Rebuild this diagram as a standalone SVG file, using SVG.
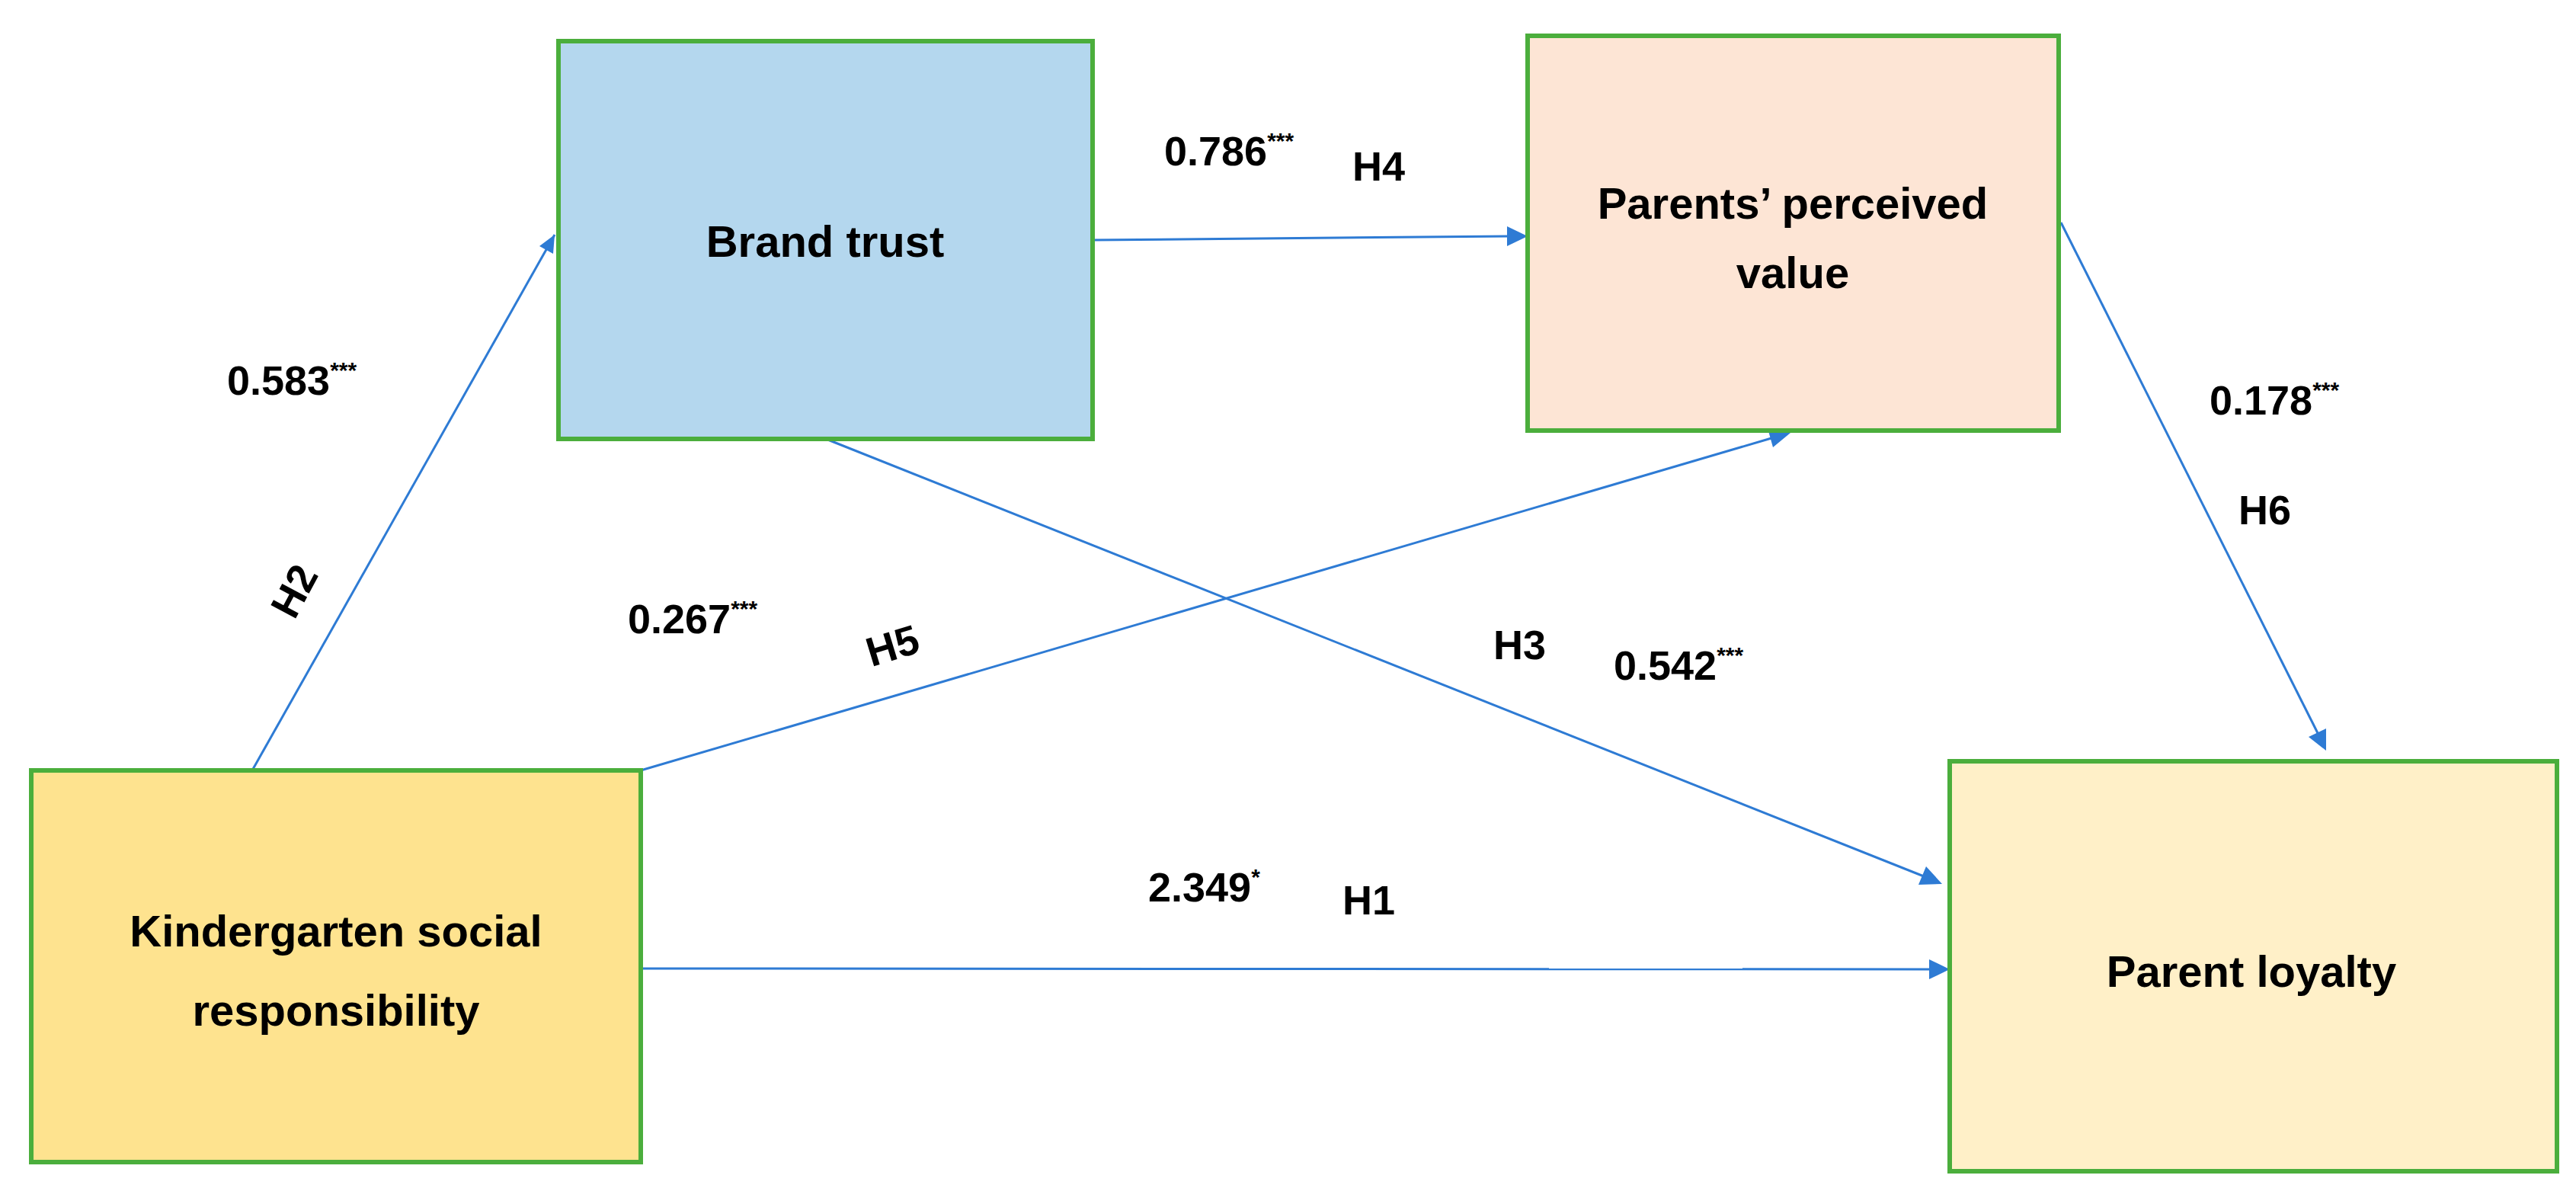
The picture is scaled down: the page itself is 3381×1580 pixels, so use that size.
<svg xmlns="http://www.w3.org/2000/svg" width="3381" height="1580" viewBox="0 0 3381 1580">
<style>
.box{stroke:#4BAE3C;stroke-width:6}
.t{font-family:"Liberation Sans",Arial,sans-serif;font-weight:bold;font-size:54px;fill:#000}
.n{font-family:"Liberation Sans",Arial,sans-serif;font-weight:bold;font-size:58px;fill:#000;text-anchor:middle}
.s{font-size:30px}
.c{stroke:#2E7BD4;stroke-width:3;fill:none;marker-end:url(#a)}
</style>
<defs><marker id="a" markerWidth="10" markerHeight="8" refX="9" refY="4" orient="auto" markerUnits="userSpaceOnUse" viewBox="0 0 10 8"><path d="M0,0L10,4L0,8z" fill="#2E7BD4" transform="scale(1)"/></marker></defs>
<rect width="3381" height="1580" fill="#fff"/>
<g id="connectors">
<marker id="dummy"/>
<line class="c" x1="331" y1="1011" x2="728" y2="308" style="marker-end:none"/>
<path d="M728,308 L708,323 L726,333 z" fill="#2E7BD4"/>
<line class="c" x1="1434" y1="315" x2="1980" y2="310" style="marker-end:none"/>
<path d="M2005,310 L1978,297 L1978,323 z" fill="#2E7BD4"/>
<line class="c" x1="841" y1="1011" x2="2325" y2="575" style="marker-end:none"/>
<path d="M2350,568 L2320,562 L2327,587 z" fill="#2E7BD4"/>
<line class="c" x1="1084" y1="576" x2="2525" y2="1150" style="marker-end:none"/>
<path d="M2549,1160 L2528,1137 L2518,1161 z" fill="#2E7BD4"/>
<line class="c" x1="841" y1="1271" x2="2533" y2="1272" style="marker-end:none"/>
<path d="M2559,1272 L2532,1259 L2532,1285 z" fill="#2E7BD4"/>
<line class="c" x1="2705" y1="292" x2="3042" y2="962" style="marker-end:none"/>
<path d="M3053,985 L3030,967 L3053,956 z" fill="#2E7BD4"/>
</g>
<g id="brand-trust"><rect class="box" x="733" y="54" width="701" height="522" fill="#B4D7EE"/><text class="n" x="1083" y="337">Brand trust</text></g>
<g id="perceived-value"><rect class="box" x="2005" y="47" width="697" height="518" fill="#FDE5D5"/><text class="n" x="2353" y="287">Parents’ perceived</text><text class="n" x="2353" y="378">value</text></g>
<g id="parent-loyalty"><rect class="box" x="2559" y="999" width="797" height="538" fill="#FFF0C8"/><text class="n" x="2955" y="1295">Parent loyalty</text></g>
<g id="kindergarten"><rect class="box" x="41" y="1011" width="800" height="514" fill="#FEE38F"/><text class="n" x="441" y="1242">Kindergarten social</text><text class="n" x="441" y="1346">responsibility</text></g>
<g id="labels">
<text class="t" x="298" y="518">0.583<tspan class="s" dy="-22">***</tspan></text>
<text class="t" x="385" y="795" text-anchor="middle" transform="rotate(-62 385 775)">H2</text>
<text class="t" x="1528" y="217">0.786<tspan class="s" dy="-22">***</tspan></text>
<text class="t" x="1775" y="237">H4</text>
<text class="t" x="824" y="831">0.267<tspan class="s" dy="-22">***</tspan></text>
<text class="t" x="1171" y="866" text-anchor="middle" transform="rotate(-17 1171 846)">H5</text>
<text class="t" x="1960" y="865">H3</text>
<text class="t" x="2118" y="892">0.542<tspan class="s" dy="-22">***</tspan></text>
<text class="t" x="1507" y="1183">2.349<tspan class="s" dy="-22">*</tspan></text>
<text class="t" x="1762" y="1200">H1</text>
<text class="t" x="2900" y="544">0.178<tspan class="s" dy="-22">***</tspan></text>
<text class="t" x="2938" y="688">H6</text>
</g>
</svg>
